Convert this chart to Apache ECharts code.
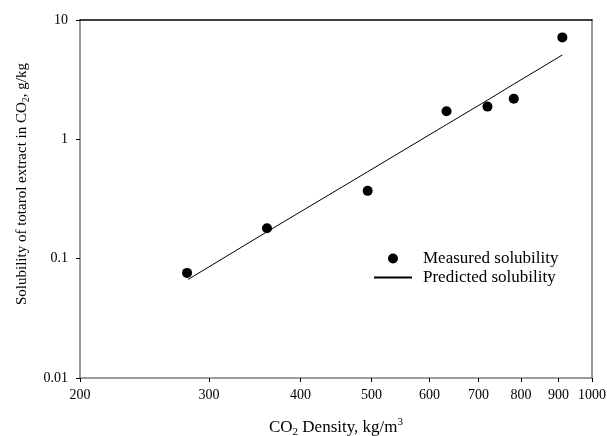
<!DOCTYPE html>
<html>
<head>
<meta charset="utf-8">
<script src="https://cdn.jsdelivr.net/npm/echarts@6/dist/echarts.min.js"></script>
<style>
  html, body { margin: 0; padding: 0; background: #fff; }
  #main { width: 607px; height: 436px; }
</style>
</head>
<body>
<div id="main"></div>
<script>
// measured points (density kg/m3, solubility g/kg)
var measuredDensity = [280, 360, 494, 633, 720, 782, 911];
var measuredSol = [0.076, 0.18, 0.37, 1.72, 1.88, 2.19, 7.15];

// predicted line
var predDensity = [281, 360, 494, 633, 720, 782, 911];
var predSol = [0.067, 0.168, 0.535, 1.33, 2.13, 2.9, 5.09];

var xTicks = [200, 300, 400, 500, 600, 700, 800, 900, 1000];
var yTicks = [0.01, 0.1, 1, 10];

var serif = 'Liberation Serif';
var axisGrey = '#7a7a7a';

function pairs(xs, ys) {
    var out = [];
    for (var i = 0; i < xs.length; i++) out.push([xs[i], ys[i]]);
    return out;
}

var myChart = echarts.init(document.getElementById('main'));

var option = {
    animation: false,
    backgroundColor: '#fff',
    textStyle: { fontFamily: serif },
    grid: { left: 80, right: 15, top: 20, bottom: 58, containLabel: false, outerBoundsMode: 'none' },
    legend: {
        orient: 'vertical',
        left: 368,
        top: 245,
        itemWidth: 38,
        itemHeight: 10,
        itemGap: 2,
        textStyle: { fontFamily: serif, fontSize: 17, color: '#000', padding: [0, 0, 0, 6] },
        data: [
            { name: 'Measured solubility' },
            // hide the dot on the line's legend icon
            { name: 'Predicted solubility', itemStyle: { color: 'transparent', borderWidth: 0, opacity: 0 } }
        ]
    },
    xAxis: [
        {
            type: 'log',
            logBase: 10,
            min: 200,
            max: 1000,
            name: 'CO{sub|2} Density, kg/m{sup|3}',
            nameLocation: 'middle',
            nameGap: 39,
            nameTextStyle: {
                fontFamily: serif, fontSize: 17, color: '#000',
                rich: {
                    sub: { fontSize: 11, fontFamily: serif, padding: [10, 0, 0, 0] },
                    sup: { fontSize: 11, fontFamily: serif, padding: [0, 0, 10, 0] }
                }
            },
            axisLine: { show: true, lineStyle: { color: axisGrey, width: 1.5 } },
            axisTick: { show: true, length: 4, customValues: xTicks, lineStyle: { color: '#000' } },
            axisLabel: {
                customValues: xTicks,
                margin: 10,
                fontFamily: serif, fontSize: 14, color: '#000',
                formatter: function (v) { return Math.round(v) + ''; }
            },
            splitLine: { show: false },
            minorTick: { show: false }
        },
        {
            // top border
            type: 'log',
            position: 'top',
            min: 200,
            max: 1000,
            axisLine: { show: true, lineStyle: { color: '#000', width: 1.5 } },
            axisTick: { show: false },
            axisLabel: { show: false },
            splitLine: { show: false }
        }
    ],
    yAxis: [
        {
            type: 'log',
            logBase: 10,
            min: 0.01,
            max: 10,
            axisLine: { show: true, lineStyle: { color: axisGrey, width: 1.5 } },
            axisTick: { show: true, length: 4, customValues: yTicks, lineStyle: { color: '#000' } },
            axisLabel: {
                customValues: yTicks,
                margin: 12,
                fontFamily: serif, fontSize: 14, color: '#000',
                formatter: function (v) { return v + ''; }
            },
            splitLine: { show: false }
        },
        {
            // right border
            type: 'log',
            position: 'right',
            min: 0.01,
            max: 10,
            axisLine: { show: true, lineStyle: { color: axisGrey, width: 1.5 } },
            axisTick: { show: false },
            axisLabel: { show: false },
            splitLine: { show: false }
        }
    ],
    graphic: [
        {
            type: 'text',
            x: 22,
            y: 184,
            rotation: Math.PI / 2,
            style: {
                text: 'Solubility of totarol extract in CO{sub|2}, g/kg',
                fontFamily: serif,
                fontSize: 15,
                fill: '#000',
                align: 'center',
                verticalAlign: 'middle',
                rich: {
                    sub: { fontSize: 10, fontFamily: serif, fill: '#000', padding: [9, 0, 0, 0] }
                }
            }
        }
    ],
    series: [
        {
            name: 'Measured solubility',
            type: 'scatter',
            symbol: 'circle',
            symbolSize: 10,
            itemStyle: { color: '#000', opacity: 1 },
            data: pairs(measuredDensity, measuredSol)
        },
        {
            name: 'Predicted solubility',
            type: 'line',
            showSymbol: false,
            symbol: 'none',
            lineStyle: { color: '#000', width: 1 },
            itemStyle: { color: '#000' },
            data: pairs(predDensity, predSol)
        }
    ]
};

myChart.setOption(option);
</script>
</body>
</html>
